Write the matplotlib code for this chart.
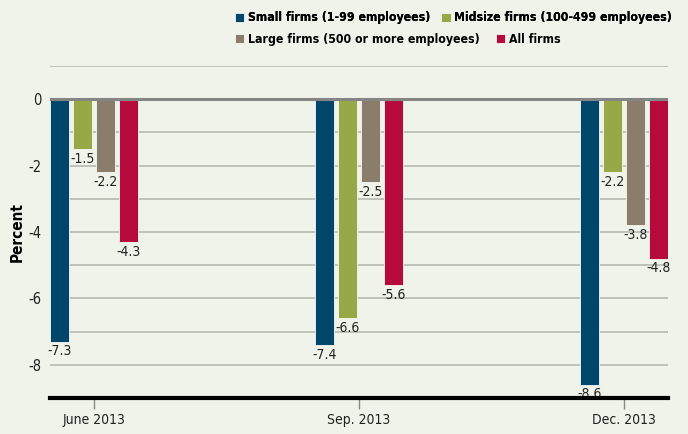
import matplotlib.pyplot as plt
import numpy as np

# data
periods = ['June 2013', 'Sep. 2013', 'Dec. 2013']
small = [-7.3, -7.4, -8.6]
midsize = [-1.5, -6.6, -2.2]
large = [-2.2, -2.5, -3.8]
all_firms = [-4.3, -5.6, -4.8]
series_names = ['Small firms (1-99 employees)', 'Midsize firms (100-499 employees)',
                'Large firms (500 or more employees)', 'All firms']
colors = ['#00466b', '#97a947', '#8a7d6c', '#b70a3c']

bg = '#f0f3ea'
plt.rcParams['font.family'] = ['DejaVu Sans']
plt.rcParams['font.stretch'] = 'condensed'


def main():
    fig = plt.figure(figsize=(6.88, 4.34), dpi=100, facecolor=bg)
    ax = fig.add_axes([0.0727, 0.083, 0.8983, 0.765])
    ax.set_facecolor(bg)

    x = np.arange(len(periods))
    width = 0.072
    pitch = 0.0875
    offsets = (np.arange(4) - 1.5) * pitch
    handles = []
    for i, vals in enumerate([small, midsize, large, all_firms]):
        bars = ax.bar(x + offsets[i], vals, width, color=colors[i],
                      edgecolor='#f8f8f4', linewidth=0.6, zorder=3)
        handles.append(bars)
        for xi, v in zip(x + offsets[i], vals):
            ax.annotate('-%.1f' % abs(v), (xi - width / 2, v), xytext=(-2, -2),
                        textcoords='offset points', ha='left', va='top',
                        fontsize=10, color='#222222')

    ax.set_xlim(-0.166, 2.166)
    ax.set_ylim(-9, 1)
    ax.set_yticks(np.arange(-8, 1, 2))
    ax.set_yticklabels(['-8', '-6', '-4', '-2', '0'], fontsize=10.5)
    for y in range(-8, 2):
        if y == 0:
            continue
        ax.axhline(y, color='#b3b5ac', linewidth=1.1, zorder=1)
    ax.axhline(0, color='#858585', linewidth=2.2, zorder=4)
    ax.tick_params(axis='y', length=0, pad=6, colors='#222222')

    ax.set_xticks(x)
    ax.set_xticklabels(periods, fontsize=10)
    ax.tick_params(axis='x', length=8, width=1, color='#888888', pad=3,
                   labelcolor='#222222')

    for side in ['top', 'right', 'left']:
        ax.spines[side].set_visible(False)
    ax.spines['bottom'].set_linewidth(3)
    ax.spines['bottom'].set_color('black')
    ax.spines['bottom'].set_zorder(5)

    ax.set_ylabel('Percent', fontsize=11, fontweight='bold', labelpad=3)

    leg1 = fig.legend(handles[:2], series_names[:2], loc='upper left',
                      bbox_to_anchor=(0.326, 0.999), ncol=2, frameon=False,
                      handlelength=0.75, handleheight=0.75, handletextpad=0.3,
                      columnspacing=0.9, prop={'weight': 'bold', 'size': 8.8})
    fig.add_artist(leg1)
    fig.legend(handles[2:], series_names[2:], loc='upper left',
               bbox_to_anchor=(0.326, 0.949), ncol=2, frameon=False,
               handlelength=0.75, handleheight=0.75, handletextpad=0.3,
               columnspacing=1.3, prop={'weight': 'bold', 'size': 8.8})

    fig.savefig('out.png', dpi=100, facecolor=bg)


if __name__ == "__main__":
    main()
